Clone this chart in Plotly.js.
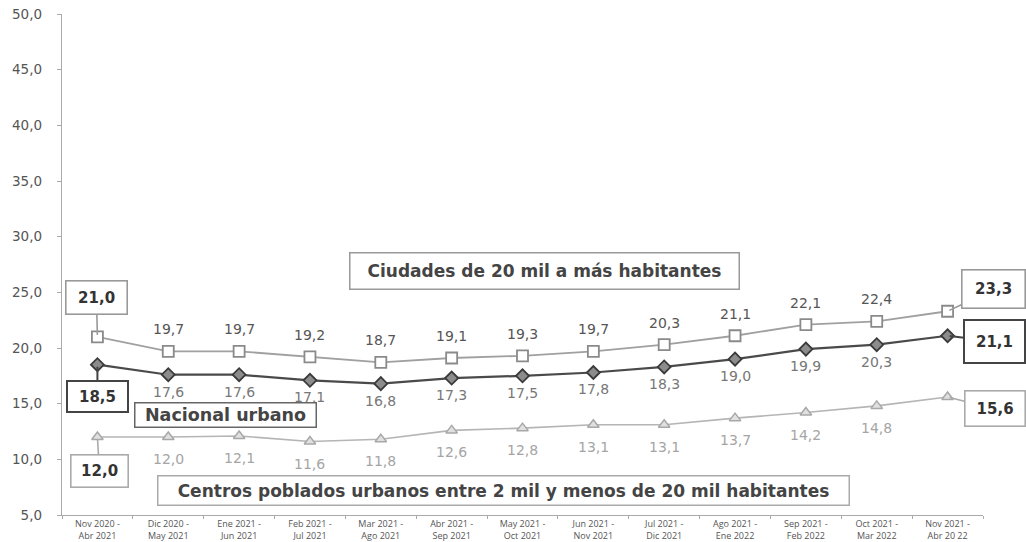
<!DOCTYPE html>
<html>
<head>
<meta charset="utf-8">
<script src="https://cdn.plot.ly/plotly-3.0.1.min.js"></script>
<style>html,body{margin:0;padding:0;background:#fff;}#chart{width:1026px;height:542px;}</style>
</head>
<body>
<div id="chart"></div>
<script>
// ---- data ----
const periods = [
  "Nov 2020 -<br>Abr 2021", "Dic 2020 -<br>May 2021", "Ene 2021 -<br>Jun 2021",
  "Feb 2021 -<br>Jul 2021", "Mar 2021 -<br>Ago 2021", "Abr 2021 -<br>Sep 2021",
  "May 2021 -<br>Oct 2021", "Jun 2021 -<br>Nov 2021", "Jul 2021 -<br>Dic 2021",
  "Ago 2021 -<br>Ene 2022", "Sep 2021 -<br>Feb 2022", "Oct 2021 -<br>Mar 2022",
  "Nov 2021 -<br>Abr 20 22"
];
const ciudades = [21.0, 19.7, 19.7, 19.2, 18.7, 19.1, 19.3, 19.7, 20.3, 21.1, 22.1, 22.4, 23.3];
const nacional = [18.5, 17.6, 17.6, 17.1, 16.8, 17.3, 17.5, 17.8, 18.3, 19.0, 19.9, 20.3, 21.1];
const centros  = [12.0, 12.0, 12.1, 11.6, 11.8, 12.6, 12.8, 13.1, 13.1, 13.7, 14.2, 14.8, 15.6];
const seriesNames = [
  "Ciudades de 20 mil a más habitantes",
  "Nacional urbano",
  "Centros poblados urbanos entre 2 mil y menos de 20 mil habitantes"
];

// ---- layout geometry ----
const W = 1026, H = 542;
const L = 62, R = 983.5, T = 14, B = 515;
const px = x => (x - L) / (R - L);
const py = y => (B - y) / (B - T);
const idx = periods.map((_, i) => i);
const fmt = v => v.toFixed(1).replace('.', ',');

const traces = [
  {
    x: idx, y: ciudades, name: seriesNames[0], mode: 'lines+markers',
    line: {color: '#a0a0a0', width: 1.8},
    marker: {symbol: 'square', size: 11, color: '#ffffff', line: {color: '#8a8a8a', width: 1.8}}
  },
  {
    x: idx, y: nacional, name: seriesNames[1], mode: 'lines+markers',
    line: {color: '#4a4a4a', width: 2.2},
    marker: {symbol: 'diamond', size: 10, color: '#8c8c8c', line: {color: '#3a3a3a', width: 1.8}}
  },
  {
    x: idx, y: centros, name: seriesNames[2], mode: 'lines+markers',
    line: {color: '#b5b5b5', width: 1.6},
    marker: {symbol: 'triangle-up', size: 10, color: '#e0e0e0', line: {color: '#a8a8a8', width: 1.5}}
  }
];

const annotations = [];
const labelFont = c => ({family: 'DejaVu Sans', size: 14, color: c});
const last = periods.length - 1;
for (let i = 1; i < last; i++) {
  annotations.push({x: i, y: ciudades[i], xref: 'x', yref: 'y', text: fmt(ciudades[i]),
    showarrow: false, yshift: 22, font: labelFont('#555')});
  annotations.push({x: i, y: nacional[i], xref: 'x', yref: 'y', text: fmt(nacional[i]),
    showarrow: false, yshift: -17, font: labelFont('#777')});
  annotations.push({x: i, y: centros[i], xref: 'x', yref: 'y', text: fmt(centros[i]),
    showarrow: false, yshift: -22, font: labelFont('#a5a5a5')});
}

// callouts for first and last values
const callout = (i, arr, ax, ay, w, h, border, bw) => ({
  x: i, y: arr[i], xref: 'x', yref: 'y', text: fmt(arr[i]),
  showarrow: true, arrowhead: 0, arrowwidth: bw, arrowcolor: border, standoff: 2,
  ax: ax, ay: ay, width: w, height: h, borderpad: 2,
  bordercolor: border, borderwidth: bw, bgcolor: '#ffffff',
  font: {family: 'DejaVu Sans', size: 15, color: '#333', weight: 'bold'}
});
annotations.push(callout(0, ciudades, -1, -39, 56, 28, '#999', 1.6));
annotations.push(callout(0, nacional, 0, 32, 55, 25, '#444', 2));
annotations.push(callout(0, centros, 2, 34, 52, 27, '#aaa', 1.6));
annotations.push(callout(last, ciudades, 46, -22, 58, 33, '#999', 1.6));
annotations.push(callout(last, nacional, 47, 6, 55, 37, '#444', 2));
annotations.push(callout(last, centros, 47, 12, 55, 30, '#aaa', 1.6));

// series name boxes
const nameBox = (text, cx, cy, w, h, border, size) => ({
  x: px(cx), y: py(cy), xref: 'paper', yref: 'paper', text: text, showarrow: false,
  xanchor: 'center', yanchor: 'middle', width: w, height: h, borderpad: 1,
  bordercolor: border, borderwidth: 1.5, bgcolor: '#ffffff',
  font: {family: 'DejaVu Sans', size: size, color: '#444', weight: 'bold'}
});
annotations.push(nameBox(seriesNames[0], 545, 271.5, 386, 33, '#999', 17));
annotations.push(nameBox(seriesNames[1], 226, 415, 178, 21, '#666', 17.5));
annotations.push(nameBox(seriesNames[2], 504, 490, 688, 26, '#aaa', 17));

const layout = {
  width: W, height: H,
  margin: {l: L, r: W - R, t: T, b: H - B, pad: 0},
  paper_bgcolor: '#ffffff', plot_bgcolor: '#ffffff',
  showlegend: false,
  separators: ',.',
  xaxis: {
    type: 'linear', range: [-0.5, last + 0.5],
    tickmode: 'array', tickvals: idx, ticktext: periods,
    showgrid: false, zeroline: false,
    showline: true, linecolor: '#aaa', linewidth: 1.2,
    ticks: '', ticklen: 0,
    minor: {ticks: 'outside', tick0: -0.5, dtick: 1, ticklen: 3, tickcolor: '#aaa', showgrid: false},
    tickfont: {family: 'Open Sans', size: 9, color: '#555'}
  },
  yaxis: {
    range: [5, 50], dtick: 5, tick0: 5, tickformat: '.1f',
    showgrid: false, zeroline: false,
    showline: true, linecolor: '#aaa', linewidth: 1.2,
    ticks: 'outside', ticklen: 4, tickcolor: '#aaa',
    ticklabelstandoff: 12,
    tickfont: {family: 'DejaVu Sans', size: 13.5, color: '#555'}
  },
  annotations: annotations
};

Plotly.newPlot('chart', traces, layout, {displayModeBar: false, staticPlot: true});
</script>
</body>
</html>
